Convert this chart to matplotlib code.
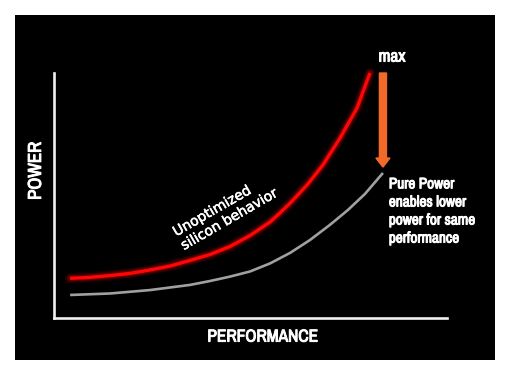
import matplotlib
matplotlib.use("Agg")
import matplotlib.pyplot as plt
import matplotlib.patheffects as pe

plt.rcParams['font.family'] = ['Archivo Narrow', 'DejaVu Sans']

# curves (performance %, power %)
red_perf = [4.1, 9.2, 14.2, 19.3, 24.4, 29.5, 34.6, 39.7, 44.8, 49.9, 55.0, 57.5,
            60.1, 64.4, 68.4, 72.8, 77.1, 80.4]
red_power = [16.2, 16.6, 17.3, 18.2, 19.6, 21.2, 23.5, 25.9, 29.2, 33.7, 39.2, 42.9,
             46.9, 54.3, 62.4, 73.5, 85.7, 100.0]
grey_perf = [4.1, 14.2, 24.4, 34.6, 39.7, 44.8, 49.9, 55.0, 60.1, 65.1, 70.2, 74.8,
             79.1, 83.7]
grey_power = [9.4, 10.0, 11.4, 13.5, 15.1, 16.9, 19.0, 22.3, 26.6, 31.8, 38.0, 44.1,
              50.6, 59.2]
arrow_x = 83.7
arrow_top = 100.0
arrow_tip = 61.6

bold = [pe.withStroke(linewidth=0.7, foreground='white')]

fig = plt.figure(figsize=(5.07, 3.76), dpi=100)
fig.patch.set_facecolor('white')

# black slide background
bg = fig.add_axes([15/507, 16/376, 480/507, 345/376])
bg.set_facecolor('black')
bg.set_xticks([])
bg.set_yticks([])
for s in bg.spines.values():
    s.set_visible(False)

ax = fig.add_axes([54/507, 58/376, 393/507, 245/376])
ax.set_facecolor('none')
ax.set_xlim(0, 100)
ax.set_ylim(0, 100)
for s in ['top', 'right']:
    ax.spines[s].set_visible(False)
for s in ['left', 'bottom']:
    ax.spines[s].set_color('#f0f0f0')
    ax.spines[s].set_linewidth(1.9)
ax.set_xticks([])
ax.set_yticks([])

# red glow
for lw, a in [(8, 0.1), (6, 0.18), (4.2, 0.3)]:
    ax.plot(red_perf, red_power, color='#c00000', lw=lw, alpha=a,
            solid_capstyle='round', clip_on=False)
ax.plot(red_perf, red_power, color='#ff0505', lw=2.4, solid_capstyle='butt', clip_on=False)
ax.plot(grey_perf, grey_power, color='#a0a0a0', lw=1.9, solid_capstyle='butt', clip_on=False)

ax.arrow(arrow_x, arrow_top, 0, arrow_tip - arrow_top, width=1.8, head_width=3.6,
         head_length=3.7, length_includes_head=True, color='#f26a2a', clip_on=False)

ax.text(86.0, 106.5, 'max', color='white', fontsize=12.5, path_effects=bold,
        ha='center', va='center', clip_on=False)
ax.text(85.2, 57.4, 'Pure Power\nenables lower\npower for same\nperformance',
        color='white', fontsize=11, path_effects=bold, ha='left', va='top',
        linespacing=1.37, clip_on=False)
ax.text(43.6, 43.0, 'Unoptimized\nsilicon behavior', color='white', fontsize=10,
        family=['DejaVu Sans'], rotation=30, rotation_mode='anchor',
        path_effects=[pe.withStroke(linewidth=0.4, foreground='white')],
        ha='center', va='center', multialignment='left', linespacing=1.15, clip_on=False)
ax.text(-4.6, 60.0, 'POWER', color='white', fontsize=13.5, path_effects=bold,
        rotation=90, ha='center', va='center', clip_on=False)
ax.text(53.2, -7.8, 'PERFORMANCE', color='white', fontsize=12.5, path_effects=bold,
        ha='center', va='center', clip_on=False)

fig.savefig('out.png', dpi=100, facecolor='white')
